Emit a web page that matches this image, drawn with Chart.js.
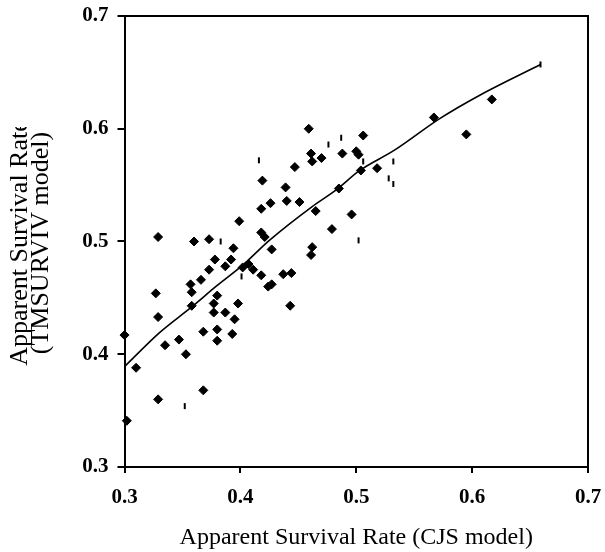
<!DOCTYPE html>
<html>
<head>
<meta charset="utf-8">
<script src="https://cdn.jsdelivr.net/npm/chart.js"></script>
<style>
  body{margin:0;background:#fff;}
  #wrap{width:605px;height:552px;}
</style>
</head>
<body>
<div id="wrap"><canvas id="myChart" width="605" height="552"></canvas></div>
<script>
// axis ticks
const xTicks=[0.3,0.4,0.5,0.6,0.7];
const yTicks=[0.3,0.4,0.5,0.6,0.7];
const xTitle="Apparent Survival Rate (CJS model)";
const yTitle=["Apparent Survival Rate","(TMSURVIV model)"];

// diamond markers: CJS estimate vs TMSURVIV estimate
const diamondX=[0.329,0.360,0.373,0.399,0.419,0.426,0.418,0.418,0.421,0.427,
  0.394,0.378,0.392,0.387,0.373,0.402,0.407,0.411,0.418,0.366,
  0.357,0.358,0.424,0.427,0.327,0.380,0.377,0.398,0.358,0.461,
  0.470,0.462,0.488,0.500,0.502,0.447,0.518,0.504,0.439,0.485,
  0.440,0.451,0.465,0.496,0.479,0.462,0.461,0.437,0.444,0.443,
  0.329,0.377,0.387,0.395,0.300,0.368,0.380,0.380,0.393,0.347,
  0.335,0.353,0.310,0.368,0.329,0.302,0.459,0.506,0.567,0.595,0.617];
const diamondY=[0.504,0.500,0.502,0.518,0.554,0.534,0.529,0.508,0.504,0.493,
  0.494,0.484,0.484,0.478,0.475,0.477,0.480,0.475,0.470,0.466,
  0.462,0.455,0.460,0.462,0.454,0.452,0.445,0.445,0.443,0.578,
  0.574,0.571,0.578,0.580,0.577,0.566,0.565,0.563,0.548,0.547,
  0.536,0.535,0.527,0.524,0.511,0.495,0.488,0.471,0.472,0.443,
  0.433,0.437,0.437,0.431,0.417,0.420,0.422,0.412,0.418,0.413,
  0.408,0.400,0.388,0.368,0.360,0.341,0.600,0.594,0.610,0.595,0.626];

// dash markers
const dashX=[0.416,0.383,0.401,0.506,0.532,0.528,0.532,0.502,0.487,0.476,0.352,0.659];
const dashY=[0.572,0.500,0.469,0.571,0.571,0.556,0.551,0.501,0.592,0.586,0.354,0.657];

// fitted curve
const fitX=[0.300,0.330,0.358,0.380,0.402,0.425,0.462,0.483,0.503,0.533,0.572,0.607,0.659];
const fitY=[0.389,0.419,0.442,0.461,0.479,0.501,0.531,0.546,0.563,0.581,0.609,0.630,0.657];

const toPts=(xs,ys)=>xs.map((x,i)=>({x:x,y:ys[i]}));
const serif='"Liberation Serif", "Times New Roman", serif';

const frame={
  id:'frame',
  afterDraw(chart){
    const ctx=chart.ctx, a=chart.chartArea;
    ctx.save();
    ctx.strokeStyle='#000';
    ctx.lineWidth=2;
    ctx.beginPath();
    ctx.moveTo(a.left,a.top);
    ctx.lineTo(a.right,a.top);
    ctx.lineTo(a.right,a.bottom);
    ctx.stroke();
    // y title, first line clipped like the original text box
    ctx.beginPath();
    ctx.rect(0,127,115,425);
    ctx.clip();
    ctx.fillStyle='#000';
    ctx.font='26px '+serif;
    ctx.textAlign='center';
    ctx.textBaseline='alphabetic';
    ctx.translate(27,243);
    ctx.rotate(-Math.PI/2);
    ctx.fillText(yTitle[0],0,0);
    ctx.fillText(yTitle[1],0,21);
    ctx.restore();
  }
};

new Chart(document.getElementById('myChart'),{
  type:'scatter',
  data:{
    datasets:[
      {
        type:'line',
        data:toPts(fitX,fitY),
        borderColor:'#000',
        borderWidth:1.6,
        pointRadius:0,
        tension:0.4,
        cubicInterpolationMode:'monotone',
        fill:false,
        clip:false
      },
      {
        data:toPts(diamondX,diamondY),
        pointStyle:'rectRot',
        pointRadius:4.5,
        backgroundColor:'#000',
        borderColor:'#000',
        borderWidth:1,
        clip:false
      },
      {
        data:toPts(dashX,dashY),
        pointStyle:'line',
        rotation:90,
        pointRadius:3,
        borderColor:'#000',
        borderWidth:2,
        clip:false
      }
    ]
  },
  options:{
    responsive:false,
    animation:false,
    layout:{padding:{left:0,right:17,top:16,bottom:0}},
    plugins:{legend:{display:false},tooltip:{enabled:false}},
    scales:{
      x:{
        type:'linear',
        min:0.3,max:0.7,
        afterBuildTicks:(s)=>{s.ticks=xTicks.map(v=>({value:v}));},
        afterFit:(s)=>{s.height=85;s.paddingLeft=0;s.paddingRight=0;},
        border:{display:true,color:'#000',width:2},
        grid:{display:true,drawOnChartArea:false,drawTicks:true,tickLength:6,color:'#000',lineWidth:2},
        ticks:{
          color:'#000',padding:12,maxRotation:0,
          font:{family:serif,size:21,weight:'bold'},
          callback:(v)=>v.toFixed(1)
        },
        title:{display:true,text:xTitle,color:'#000',font:{family:serif,size:24},padding:{top:0,bottom:0}}
      },
      y:{
        type:'linear',
        min:0.3,max:0.7,
        afterBuildTicks:(s)=>{s.ticks=yTicks.map(v=>({value:v}));},
        afterFit:(s)=>{s.width=124.5;s.paddingTop=0;s.paddingBottom=0;},
        border:{display:true,color:'#000',width:2},
        grid:{display:true,drawOnChartArea:false,drawTicks:true,tickLength:7,color:'#000',lineWidth:2},
        ticks:{
          color:'#000',padding:9,
          font:{family:serif,size:21,weight:'bold'},
          callback:(v)=>v.toFixed(1)
        }
      }
    }
  },
  plugins:[frame]
});
</script>
</body>
</html>
